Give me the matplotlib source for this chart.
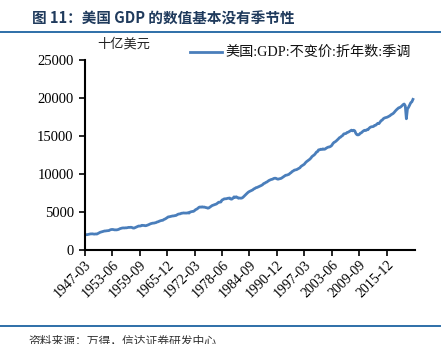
import matplotlib
matplotlib.use("Agg")
import matplotlib.pyplot as plt
from matplotlib.lines import Line2D

# 美国实际GDP（十亿美元，季调折年），1947Q1-2021Q4
gdp = [
    2033, 2028, 2024, 2056, 2087, 2122, 2134, 2136, 2107, 2100, 2122, 2106,
    2185, 2253, 2340, 2384, 2417, 2459, 2509, 2515, 2539, 2547, 2566, 2651,
    2697, 2712, 2696, 2660, 2655, 2657, 2686, 2734, 2813, 2858, 2897, 2915,
    2904, 2925, 2924, 2960, 2984, 2979, 3000, 2966, 2894, 2897, 2961, 3033,
    3082, 3162, 3158, 3175, 3259, 3237, 3239, 3200, 3220, 3275, 3328, 3401,
    3467, 3504, 3542, 3548, 3585, 3622, 3702, 3730, 3808, 3849, 3901, 3912,
    4014, 4076, 4158, 4259, 4362, 4379, 4418, 4448, 4486, 4492, 4529, 4548,
    4629, 4714, 4749, 4767, 4839, 4852, 4882, 4866, 4865, 4867, 4909, 4861,
    5004, 5040, 5076, 5088, 5191, 5319, 5383, 5489, 5619, 5666, 5636, 5690,
    5638, 5656, 5596, 5575, 5506, 5541, 5642, 5731, 5851, 5902, 5948, 5994,
    6064, 6177, 6293, 6296, 6326, 6574, 6640, 6730, 6740, 6750, 6797, 6823,
    6843, 6701, 6695, 6817, 6997, 6927, 7003, 6922, 6814, 6845, 6821, 6835,
    6918, 7063, 7202, 7339, 7484, 7613, 7703, 7768, 7849, 7911, 8036, 8103,
    8202, 8232, 8299, 8354, 8419, 8505, 8596, 8740, 8795, 8895, 8954, 9069,
    9161, 9228, 9287, 9312, 9403, 9442, 9441, 9363, 9317, 9358, 9405, 9433,
    9535, 9637, 9733, 9835, 9851, 9909, 9955, 10092, 10188, 10328, 10408, 10508,
    10543, 10575, 10665, 10738, 10817, 10998, 11097, 11213, 11285, 11472, 11616, 11716,
    11832, 11942, 12092, 12287, 12403, 12499, 12662, 12877, 12925, 13170, 13184, 13262,
    13219, 13301, 13244, 13281, 13397, 13478, 13539, 13559, 13634, 13751, 13985, 14146,
    14221, 14330, 14465, 14606, 14767, 14839, 14972, 15067, 15267, 15302, 15327, 15456,
    15494, 15582, 15667, 15762, 15672, 15752, 15667, 15328, 15156, 15134, 15190, 15357,
    15416, 15558, 15672, 15751, 15713, 15825, 15821, 16005, 16130, 16199, 16220, 16240,
    16382, 16404, 16531, 16664, 16617, 16827, 17012, 17083, 17262, 17353, 17407, 17439,
    17497, 17573, 17658, 17784, 17864, 17957, 18109, 18285, 18437, 18566, 18699, 18733,
    18835, 18963, 19113, 19202, 18952, 17258, 18561, 18767, 19056, 19368, 19479, 19806,
]
tick_labels = ["1947-03", "1953-06", "1959-09", "1965-12", "1972-03", "1978-06",
               "1984-09", "1990-12", "1997-03", "2003-06", "2009-09", "2015-12"]
yticks = [0, 5000, 10000, 15000, 20000, 25000]

serif = ["Liberation Serif", "Noto Sans CJK SC"]
cjk = ["Noto Sans CJK SC", "DejaVu Sans"]
line_color = "#4a7ebb"
band_color = "#2e6fa8"

fig = plt.figure(figsize=(4.44, 3.44), dpi=100)
ax = fig.add_axes([0.191, 0.273, 0.744, 0.553])

x = list(range(len(gdp)))
ax.plot(x, gdp, color=line_color, lw=2.0)

ax.set_xlim(0, 301)
ax.set_ylim(0, 25000)
ax.set_xticks([i * 25 for i in range(len(tick_labels))])
ax.set_xticklabels(tick_labels, rotation=45, ha="right", rotation_mode="anchor",
                   family=serif, fontsize=10)
ax.set_yticks(yticks)
ax.set_yticklabels([str(v) for v in yticks], family=serif, fontsize=10.5)
ax.tick_params(axis="both", direction="out", length=4, width=1.2, color="black")
ax.tick_params(axis="y", pad=4)
ax.tick_params(axis="x", pad=2)
for s in ["top", "right"]:
    ax.spines[s].set_visible(False)
for s in ["left", "bottom"]:
    ax.spines[s].set_linewidth(1.5)

# 单位与图例
fig.text(0.218, 0.862, "十亿美元", family=cjk, fontsize=9.5, color="#222222")
fig.add_artist(Line2D([0.428, 0.500], [0.848, 0.848], color=line_color, lw=2.0))
fig.text(0.507, 0.848, "美国:GDP:不变价:折年数:季调", family=serif, fontsize=10.2,
         va="center", color="#111111")

# 标题与上下分隔线
fig.text(0.072, 0.947, "图 11：美国 GDP 的数值基本没有季节性", family=cjk,
         fontsize=10.5, fontweight="bold", color="#1f3a5c", va="center")
fig.add_artist(Line2D([0.0, 0.99], [0.907, 0.907], color=band_color, lw=1.4))
fig.add_artist(Line2D([0.0, 0.99], [0.052, 0.052], color=band_color, lw=1.4))
fig.text(0.065, 0.008, "资料来源：万得，信达证券研发中心", family=cjk,
         fontsize=8.5, style="italic", color="#333333", va="center")

fig.savefig("out.png", dpi=100)
